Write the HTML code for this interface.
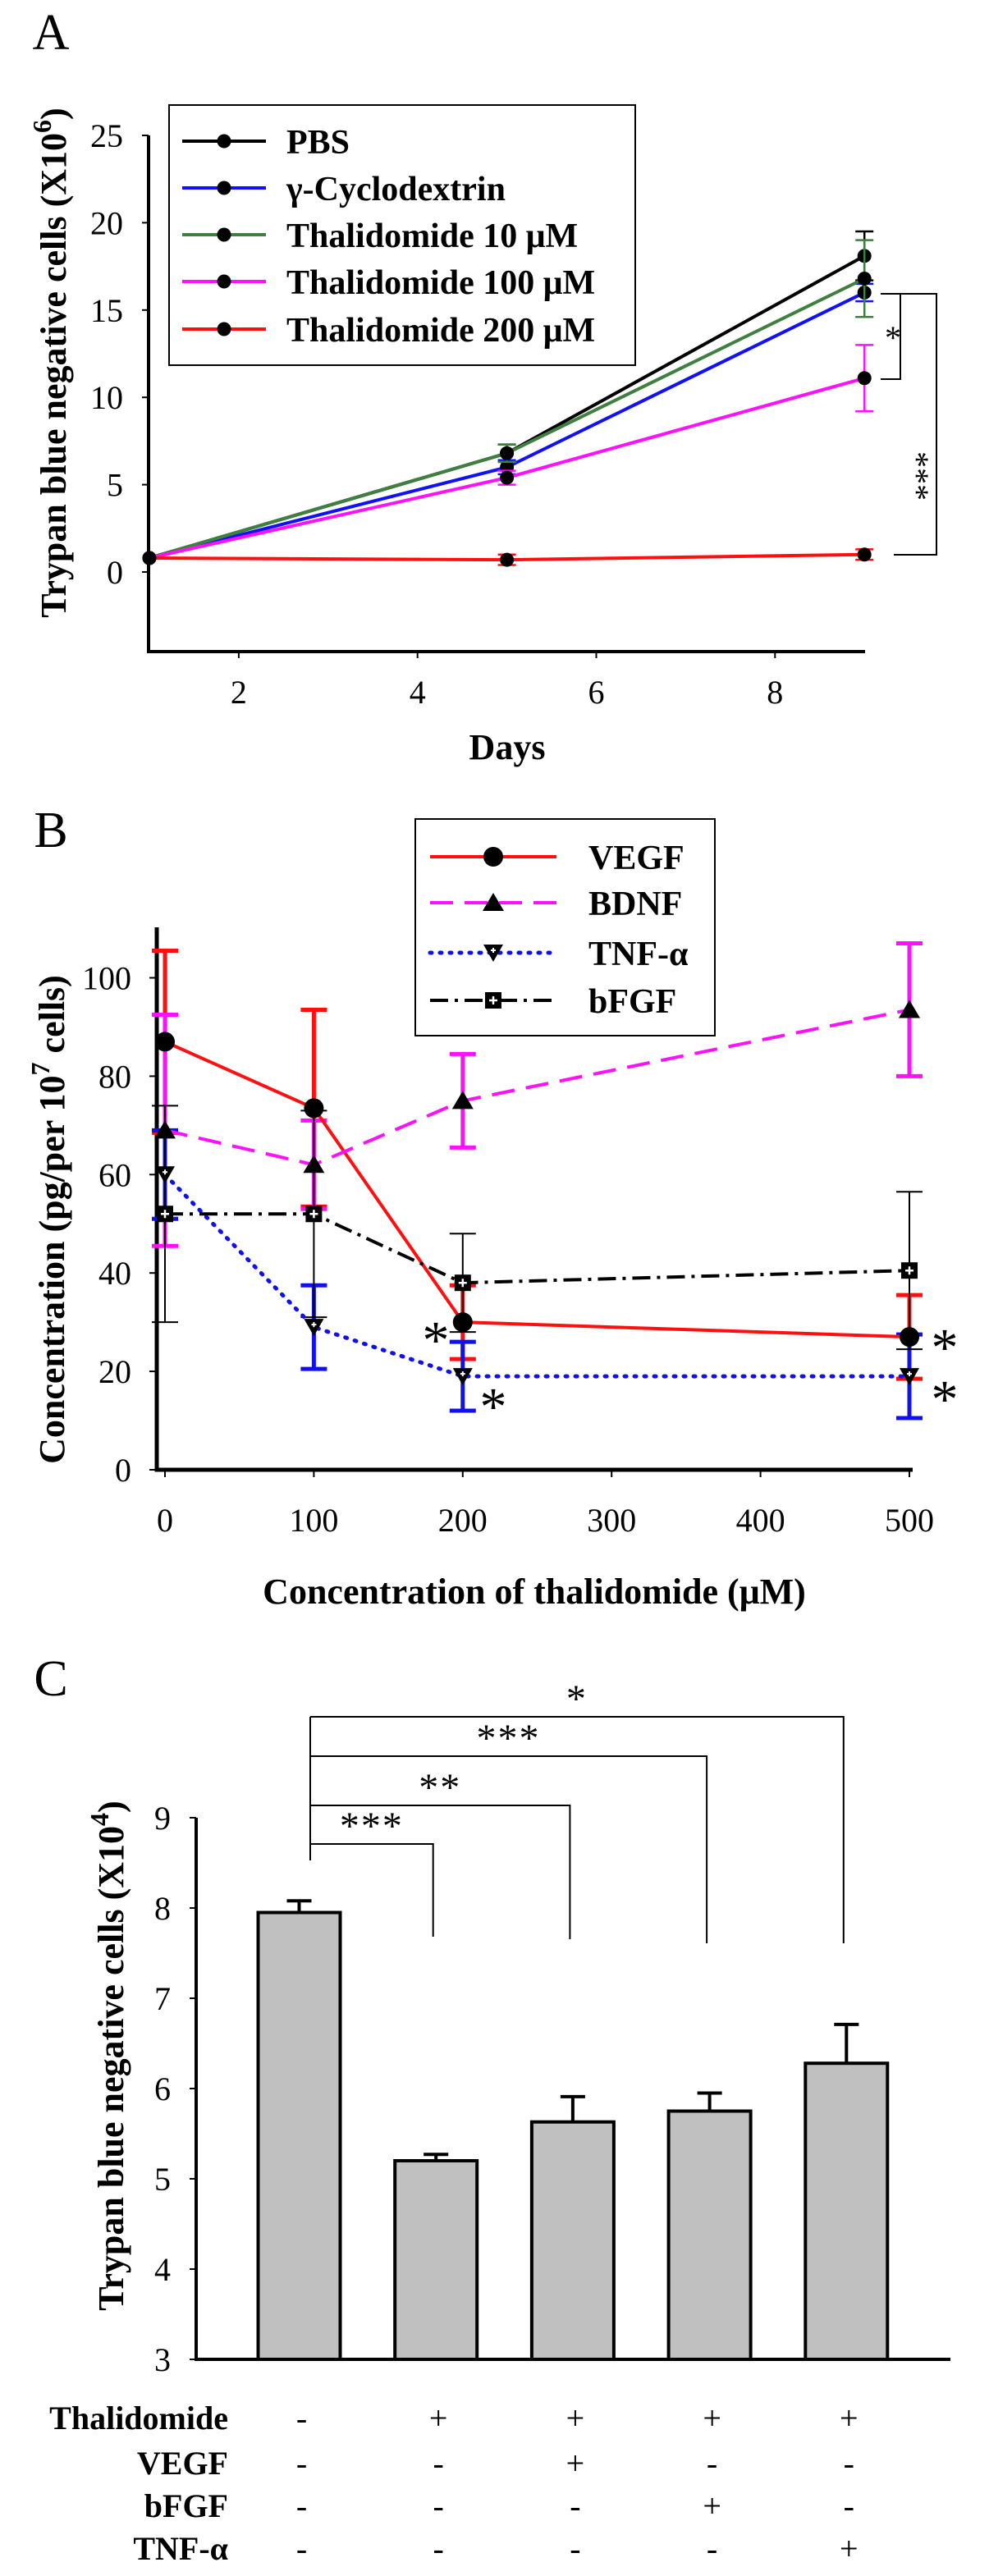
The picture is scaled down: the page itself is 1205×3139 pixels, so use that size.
<!DOCTYPE html>
<html><head><meta charset="utf-8">
<style>
html,body{margin:0;padding:0;background:#fff;}
svg{display:block;}
text{font-family:"Liberation Serif",serif;}
</style></head>
<body>
<svg id="fig" width="1205" height="3139" viewBox="0 0 1205 3139" xmlns="http://www.w3.org/2000/svg">
<g id="pa"></g>
<g id="pb"></g>
<g id="pc"></g>
</svg>
<script>
// ---------- Panel A data ----------
const aDays = [1, 5, 9];
const aSeriesNames = ["PBS", "γ-Cyclodextrin", "Thalidomide 10 μM", "Thalidomide 100 μM", "Thalidomide 200 μM"];
const aPBS = [0.8, 6.8, 18.1];
const aCyclo = [0.8, 6.0, 16.0];
const aThal10 = [0.8, 6.8, 16.8];
const aThal100 = [0.8, 5.4, 11.1];
const aThal200 = [0.8, 0.7, 1.0];
const aErrPBS = [0, 0.5, 1.4];
const aErrCyclo = [0, 0.4, 0.5];
const aErrThal10 = [0, 0.5, 2.2];
const aErrThal100 = [0, 0.4, 1.9];
const aErrThal200 = [0, 0.3, 0.3];
const aYTicks = [0, 5, 10, 15, 20, 25];
const aXTicks = [2, 4, 6, 8];

// ---------- Panel B data ----------
const bConc = [0, 100, 200, 500];
const bSeriesNames = ["VEGF", "BDNF", "TNF-α", "bFGF"];
const bVEGF = [87, 73.5, 30, 27];
const bBDNF = [69, 62, 75, 93.5];
const bTNF = [60, 29, 19, 19];
const bFGF = [52, 52, 38, 40.5];
const bErrVEGF = [18.5, 20, 7.5, 8.5];
const bErrBDNF = [23.5, 9, 9.5, 13.5];
const bErrTNF = [9, 8.5, 7, 8.5];
const bErrFGF = [22, 21, 10, 16];
const bYTicks = [0, 20, 40, 60, 80, 100];
const bXTicks = [0, 100, 200, 300, 400, 500];

// ---------- Panel C data ----------
const cGroups = ["g1", "g2", "g3", "g4", "g5"];
const cValues = [7.95, 5.2, 5.63, 5.75, 6.28];
const cErrors = [0.13, 0.07, 0.28, 0.2, 0.43];
const cYTicks = [3, 4, 5, 6, 7, 8, 9];
const cSigLabels = ["", "***", "**", "***", "*"];
const cRowLabels = ["Thalidomide", "VEGF", "bFGF", "TNF-α"];
const cThal = ["-", "+", "+", "+", "+"];
const cVEGF = ["-", "-", "+", "-", "-"];
const cBFGF = ["-", "-", "-", "+", "-"];
const cTNF = ["-", "-", "-", "-", "+"];

const NS = "http://www.w3.org/2000/svg";
function el(parent, tag, attrs, txt) {
  const e = document.createElementNS(NS, tag);
  for (const k in attrs) e.setAttribute(k, attrs[k]);
  if (txt !== undefined) e.textContent = txt;
  parent.appendChild(e);
  return e;
}

// ================= PANEL A =================
(function(){
  const g = document.getElementById('pa');
  const x = d => 182 + (d - 1) * 108.9;
  const y = v => 697 - v * 21.28;
  let t = el(g, 'text', {x: 62, y: 60, 'font-size': 62, 'text-anchor': 'middle'}, 'A');
   
  let ax = el(g, 'path', {d: `M181 165 V794 H1054`, stroke: '#000', 'stroke-width': 4, fill: 'none'});
   
  aYTicks.forEach(v => {
    el(g, 'line', {x1: 173, x2: 181, y1: y(v), y2: y(v), stroke: '#000', 'stroke-width': 2});
    const tt = el(g, 'text', {x: 150, y: y(v) + 14, 'font-size': 40, 'text-anchor': 'end'}, String(v));
     
  });
  aXTicks.forEach(d => {
    el(g, 'line', {x1: x(d), x2: x(d), y1: 794, y2: 802, stroke: '#000', 'stroke-width': 2});
    const tt = el(g, 'text', {x: x(d), y: 857, 'font-size': 40, 'text-anchor': 'middle'}, String(d));
     
  });
  t = el(g, 'text', {x: 618, y: 925, 'font-size': 44, 'font-weight': 'bold', 'text-anchor': 'middle'}, 'Days');
   
  t = el(g, 'text', {transform: 'translate(80,442) rotate(-90)', 'font-size': 44, 'font-weight': 'bold', 'text-anchor': 'middle'});
   
  el(t, 'tspan', {}, 'Trypan blue negative cells (X10');
  el(t, 'tspan', {dy: -18, 'font-size': 32}, '6');
  el(t, 'tspan', {dy: 18}, ')');

  const series = [
    {v: aPBS, e: aErrPBS, c: '#000000', n: 'series-pbs'},
    {v: aCyclo, e: aErrCyclo, c: '#1010ff', n: 'series-cyclodextrin'},
    {v: aThal10, e: aErrThal10, c: '#3f7f3f', n: 'series-thalidomide-10'},
    {v: aThal100, e: aErrThal100, c: '#ff10ff', n: 'series-thalidomide-100'},
    {v: aThal200, e: aErrThal200, c: '#ff1010', n: 'series-thalidomide-200'}
  ];
  series.forEach(s => {
    const sg = el(g, 'g', {});
     
    s.v.forEach((v, i) => {
      if (s.e[i] > 0) {
        const xx = x(aDays[i]);
        el(sg, 'path', {d: `M${xx} ${y(v - s.e[i])} V${y(v + s.e[i])} M${xx-11} ${y(v - s.e[i])} h22 M${xx-11} ${y(v + s.e[i])} h22`, stroke: s.c, 'stroke-width': 2.5, fill: 'none'});
      }
    });
    el(sg, 'polyline', {points: s.v.map((v, i) => `${x(aDays[i])},${y(v)}`).join(' '), stroke: s.c, 'stroke-width': 4, fill: 'none'});
    s.v.forEach((v, i) => {
      const m = el(sg, 'circle', {cx: x(aDays[i]), cy: y(v), r: 8.5, fill: '#000'});
       
    });
  });
  // significance brackets
  const b1 = el(g, 'path', {d: 'M1073 358 H1097 V462 H1073', stroke: '#000', 'stroke-width': 2, fill: 'none'});
   
  t = el(g, 'text', {x: 1078, y: 425, 'font-size': 40}, '*');
   
  const b2 = el(g, 'path', {d: 'M1097 358 H1141 V676 H1089', stroke: '#000', 'stroke-width': 2, fill: 'none'});
   
  t = el(g, 'text', {transform: 'translate(1104,580) rotate(90)', 'font-size': 40, 'text-anchor': 'middle'}, '***');
   

  // legend
  const lg = el(g, 'g', {});
   
  el(lg, 'rect', {x: 206, y: 128, width: 568, height: 317, fill: '#fff', stroke: '#000', 'stroke-width': 2});
  const ly = [172, 229, 286, 343, 401];
  series.forEach((s, i) => {
    const eg = el(lg, 'g', {});
     
    el(eg, 'line', {x1: 222, x2: 324, y1: ly[i], y2: ly[i], stroke: s.c, 'stroke-width': 4});
    el(eg, 'circle', {cx: 273, cy: ly[i], r: 8.5, fill: '#000'});
    el(eg, 'text', {x: 349, y: ly[i] + 15, 'font-size': 42, 'font-weight': 'bold'}, aSeriesNames[i]);
  });
})();

// ================= PANEL B =================
(function(){
  const g = document.getElementById('pb');
  const x = c => 201 + c * 1.814;
  const y = v => 1791 - v * 5.995;
  let t = el(g, 'text', {x: 62, y: 1032, 'font-size': 62, 'text-anchor': 'middle'}, 'B');
   
  let ax = el(g, 'path', {d: 'M191 1130 V1791 H1112', stroke: '#000', 'stroke-width': 5, fill: 'none'});
   
  bYTicks.forEach(v => {
    el(g, 'line', {x1: 182, x2: 191, y1: y(v), y2: y(v), stroke: '#000', 'stroke-width': 2});
    const tt = el(g, 'text', {x: 160, y: y(v) + 14, 'font-size': 40, 'text-anchor': 'end'}, String(v));
     
  });
  bXTicks.forEach(c => {
    el(g, 'line', {x1: x(c), x2: x(c), y1: 1791, y2: 1800, stroke: '#000', 'stroke-width': 2});
    const tt = el(g, 'text', {x: x(c), y: 1866, 'font-size': 40, 'text-anchor': 'middle'}, String(c));
     
  });
  t = el(g, 'text', {x: 651, y: 1954, 'font-size': 44, 'font-weight': 'bold', 'text-anchor': 'middle'}, 'Concentration of thalidomide (μM)');
   
  t = el(g, 'text', {transform: 'translate(78,1486) rotate(-90)', 'font-size': 44, 'font-weight': 'bold', 'text-anchor': 'middle'});
   
  el(t, 'tspan', {}, 'Concentration (pg/per 10');
  el(t, 'tspan', {dy: -18, 'font-size': 32}, '7');
  el(t, 'tspan', {dy: 18}, ' cells)');

  const series = [
    {v: bVEGF, e: bErrVEGF, c: '#ff1010', ec: '#ff1010', ew: 5, dash: '', m: 'circle', n: 'series-vegf'},
    {v: bBDNF, e: bErrBDNF, c: '#ff10ff', ec: '#ff10ff', ew: 5, dash: '28 14', m: 'tri', n: 'series-bdnf'},
    {v: bTNF, e: bErrTNF, c: '#1010ee', ec: '#1010ee', ew: 5, dash: '2 10', m: 'itri', n: 'series-tnf-alpha'},
    {v: bFGF, e: bErrFGF, c: '#000000', ec: '#000000', ew: 2, dash: '22 8 4 8', m: 'sq', n: 'series-bfgf'}
  ];
  function marker(p, type, cx, cy) {
    let m;
    if (type === 'circle') m = el(p, 'circle', {cx, cy, r: 12, fill: '#000'});
    else if (type === 'tri') m = el(p, 'path', {d: `M${cx} ${cy-12} L${cx+13} ${cy+10} L${cx-13} ${cy+10} Z`, fill: '#000'});
    else if (type === 'itri') {
      m = el(p, 'path', {d: `M${cx} ${cy+11} L${cx+12} ${cy-10} L${cx-12} ${cy-10} Z`, fill: '#000'});
      el(p, 'path', {d: `M${cx-3} ${cy-3} h6 M${cx} ${cy-6} v6`, stroke: '#fff', 'stroke-width': 2});
    } else {
      m = el(p, 'rect', {x: cx - 10, y: cy - 10, width: 20, height: 20, fill: '#000'});
      el(p, 'path', {d: `M${cx-5} ${cy} h10 M${cx} ${cy-5} v10`, stroke: '#fff', 'stroke-width': 2.5});
    }
     
  }
  series.forEach(s => {
    const sg = el(g, 'g', {});
     
    s.v.forEach((v, i) => {
      const xx = x(bConc[i]);
      el(sg, 'path', {d: `M${xx} ${y(v - s.e[i])} V${y(v + s.e[i])} M${xx-16} ${y(v - s.e[i])} h32 M${xx-16} ${y(v + s.e[i])} h32`, stroke: s.ec, 'stroke-width': s.ew, fill: 'none'});
    });
  });
  series.forEach(s => {
    const sg = el(g, 'g', {});
     
    const a = {points: s.v.map((v, i) => `${x(bConc[i])},${y(v)}`).join(' '), stroke: s.c, 'stroke-width': 4, fill: 'none'};
    if (s.dash) { a['stroke-dasharray'] = s.dash; }
    if (s.m === 'itri') { a['stroke-linecap'] = 'round'; a['stroke-width'] = 5; }
    el(sg, 'polyline', a);
    s.v.forEach((v, i) => marker(sg, s.m, x(bConc[i]), y(v)));
  });
  // asterisks
  [[531, 1655], [601, 1736], [1151, 1664], [1151, 1727]].forEach(p => {
    const s = el(g, 'text', {x: p[0], y: p[1], 'font-size': 66, 'text-anchor': 'middle'}, '*');
     
  });
  // legend
  const lg = el(g, 'g', {});
   
  el(lg, 'rect', {x: 506, y: 998, width: 365, height: 264, fill: '#fff', stroke: '#000', 'stroke-width': 2});
  const ly = [1044, 1100, 1161, 1219];
  series.forEach((s, i) => {
    const eg = el(lg, 'g', {});
     
    const a = {x1: 524, x2: 678, y1: ly[i], y2: ly[i], stroke: s.c, 'stroke-width': s.m === 'itri' ? 5 : 4};
    if (s.dash) a['stroke-dasharray'] = s.dash;
    if (s.m === 'itri') a['stroke-linecap'] = 'round';
    el(eg, 'line', a);
    marker(eg, s.m, 601, ly[i]);
    el(eg, 'text', {x: 717, y: ly[i] + 15, 'font-size': 42, 'font-weight': 'bold'}, bSeriesNames[i]);
  });
})();

// ================= PANEL C =================
(function(){
  const g = document.getElementById('pc');
  const x = i => 364.5 + i * 166.7;
  const y = v => 2875 - (v - 3) * 110;
  let t = el(g, 'text', {x: 62, y: 2066, 'font-size': 62, 'text-anchor': 'middle'}, 'C');
   
  cYTicks.forEach(v => {
    el(g, 'line', {x1: 231, x2: 239, y1: y(v), y2: y(v), stroke: '#000', 'stroke-width': 2});
    const tt = el(g, 'text', {x: 208, y: y(v) + 14, 'font-size': 40, 'text-anchor': 'end'}, String(v));
     
  });
  t = el(g, 'text', {transform: 'translate(150,2505) rotate(-90)', 'font-size': 44, 'font-weight': 'bold', 'text-anchor': 'middle'});
   
  el(t, 'tspan', {}, 'Trypan blue negative cells (X10');
  el(t, 'tspan', {dy: -18, 'font-size': 32}, '4');
  el(t, 'tspan', {dy: 18}, ')');
  cValues.forEach((v, i) => {
    const xx = x(i);
    const e = cErrors[i];
    const eb = el(g, 'path', {d: `M${xx} ${y(v)} V${y(v + e)} M${xx-15} ${y(v + e)} h30`, stroke: '#000', 'stroke-width': 4, fill: 'none'});
     
    const b = el(g, 'rect', {x: xx - 50, y: y(v), width: 100, height: y(3) - y(v), fill: '#c0c0c0', stroke: '#000', 'stroke-width': 4});
     
  });
  let ax = el(g, 'path', {d: 'M239 2215 V2875 H1158', stroke: '#000', 'stroke-width': 4, fill: 'none'});
   
  // brackets
  const bY = [0, 2247, 2200, 2140, 2092];
  const bBot = [0, 2360, 2363, 2368, 2368];
  const sx = 378;
  el(g, 'line', {x1: sx, x2: sx, y1: 2092, y2: 2267, stroke: '#000', 'stroke-width': 2});
  for (let i = 1; i < 5; i++) {
    const bx = 378 + (x(i) - x(0)) - 17;
    const br = el(g, 'path', {d: `M${sx} ${bY[i]} H${bx} V${bBot[i]}`, stroke: '#000', 'stroke-width': 2, fill: 'none'});
     
    const st = el(g, 'text', {x: (sx + bx) / 2, y: bY[i] - 6, 'font-size': 48, 'text-anchor': 'middle', 'letter-spacing': 2}, cSigLabels[i]);
     
  }
  // condition table
  const rows = [cThal, cVEGF, cBFGF, cTNF];
  const ry = [2960, 3015, 3067, 3119];
  rows.forEach((r, k) => {
    const lt = el(g, 'text', {x: 278, y: ry[k], 'font-size': 40, 'font-weight': 'bold', 'text-anchor': 'end'}, cRowLabels[k]);
     
    r.forEach((s, i) => {
      const st = el(g, 'text', {x: x(i) + 3, y: ry[k], 'font-size': 40, 'text-anchor': 'middle'}, s);
       
    });
  });
})();
</script>
</body></html>
